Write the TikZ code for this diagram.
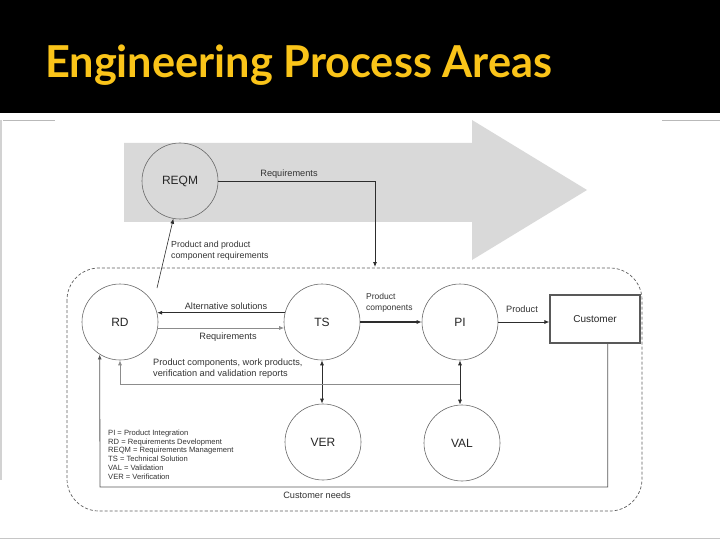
\documentclass[tikz,border=0pt]{standalone}
\usepackage{fontspec}
\setmainfont{Liberation Sans}
\newfontfamily\titlefont{Lato}
\usetikzlibrary{arrows.meta,calc}
\definecolor{titleyellow}{RGB}{250,196,25}
\definecolor{arrowgray}{RGB}{217,217,217}
\definecolor{linegray}{RGB}{45,45,45}
\definecolor{circgray}{RGB}{105,105,105}
\definecolor{softgray}{RGB}{140,140,140}
\begin{document}
\begin{tikzpicture}[x=1pt,y=-1pt,
  proc/.style={circle, draw=circgray, line width=0.6pt, minimum size=76pt, inner sep=0pt, font=\fontsize{12}{14}\selectfont, text=black!85},
  lbl/.style={font=\fontsize{9.2}{11.5}\selectfont, text=black!80, inner sep=0pt},
  conn/.style={draw=linegray, line width=0.8pt, -{Latex[length=5pt,width=4pt]}},
  both/.style={draw=linegray, line width=0.8pt, {Latex[length=5pt,width=4pt]}-{Latex[length=5pt,width=4pt]}},
  frameline/.style={draw=gray!55, line width=1pt},
  ]
\useasboundingbox (0,0) rectangle (720,540);
\fill[white] (0,0) rectangle (720,540);
\fill[black] (0,0) rectangle (720,113);
% frame artefacts
\draw[frameline] (3,120.5) -- (55,120.5);
\draw[frameline] (662,120.5) -- (720,120.5);
\draw[draw=gray!35, line width=2pt] (1,120) -- (1,480);
\draw[frameline, draw=gray!45] (0,538.5) -- (720,538.5);
% title
\node[anchor=base west, text=titleyellow, inner sep=0pt] (title) at (45,78)
  {\resizebox{507pt}{\height}{\titlefont\bfseries\fontsize{44}{50}\selectfont Engineering Process Areas}};
% big gray arrow
\fill[arrowgray] (124,143) -- (472,143) -- (472,120) -- (587,190) -- (472,260) -- (472,222) -- (124,222) -- cycle;
% dashed boundary
\draw[draw=gray!75!black, line width=0.7pt, dash pattern=on 3pt off 2pt, rounded corners=32pt] (67,268) rectangle (642,511);
% process areas
\node[proc] (REQM) at (180,181) {REQM};
\node[proc] (RD) at (120,322) {RD};
\node[proc] (TS) at (322,322) {TS};
\node[proc] (PI) at (460,322) {PI};
\node[proc] (VER) at (323,442) {VER};
\node[proc] (VAL) at (462,443) {VAL};
\node[draw=gray!70!black, line width=1.1pt, minimum width=90pt, minimum height=48pt, font=\fontsize{10}{12}\selectfont, text=black!85] (Cust) at (595,319) {Customer};
% REQM -> TS area
\coordinate (reqdrop) at (375,267);
\draw[conn] (REQM.east) -| (reqdrop);
\node[lbl] (lreq) at (289,174) {Requirements};
% RD -> REQM
\coordinate (rdtop) at (157,288);
\draw[conn, line width=0.6pt] (rdtop) -- (REQM.260);
\node[lbl, anchor=north west, align=left, font=\fontsize{8.8}{11}\selectfont] (lpcr) at (171,240.5) {Product and product\\component requirements};
% TS <-> RD
\draw[conn] (TS.166) -- (RD.14);
\node[lbl] (lalt) at (226,306) {Alternative solutions};
\draw[conn, draw=softgray] (RD.-9) -- (TS.189);
\node[lbl] (lreq2) at (228,337) {Requirements};
% TS -> PI
\draw[conn, line width=1.5pt] (TS.east) -- (PI.west);
\node[lbl, anchor=north west, align=left, font=\fontsize{8.5}{11}\selectfont] (lpc) at (366,293) {Product\\components};
% PI -> Customer
\draw[conn] (PI.east) -- (PI.east -| Cust.west);
\node[lbl] (lprod) at (522,309) {Product};
% verification / validation
\draw[both] (TS.south) -- (TS.south |- VER.north);
\draw[both] (PI.south) -- (PI.south |- VAL.north);
% feedback to RD
\coordinate (fb) at (460,384);
\draw[conn, draw=softgray] (fb) -| (RD.south);
\node[lbl, anchor=north west, align=left, font=\fontsize{9.2}{11.5}\selectfont] (lfb) at (153,358.5) {Product components, work products,\\verification and validation reports};
% customer needs loop
\coordinate (cn) at ($(Cust.south west)!0.64!(Cust.south east)$);
\coordinate (bot) at (100,487);
\draw[conn, draw=gray!70!black] (cn) |- (bot) -- (RD.238);
\node[lbl] (lcn) at (317,495) {Customer needs};
% legend
\node[anchor=north west, align=left, inner sep=0pt, font=\fontsize{7.6}{8.8}\selectfont, text=black!80] (legend) at (108,429.5)
  {PI = Product Integration\\RD = Requirements Development\\REQM = Requirements Management\\TS = Technical Solution\\VAL = Validation\\VER = Verification};
\end{tikzpicture}
\end{document}
